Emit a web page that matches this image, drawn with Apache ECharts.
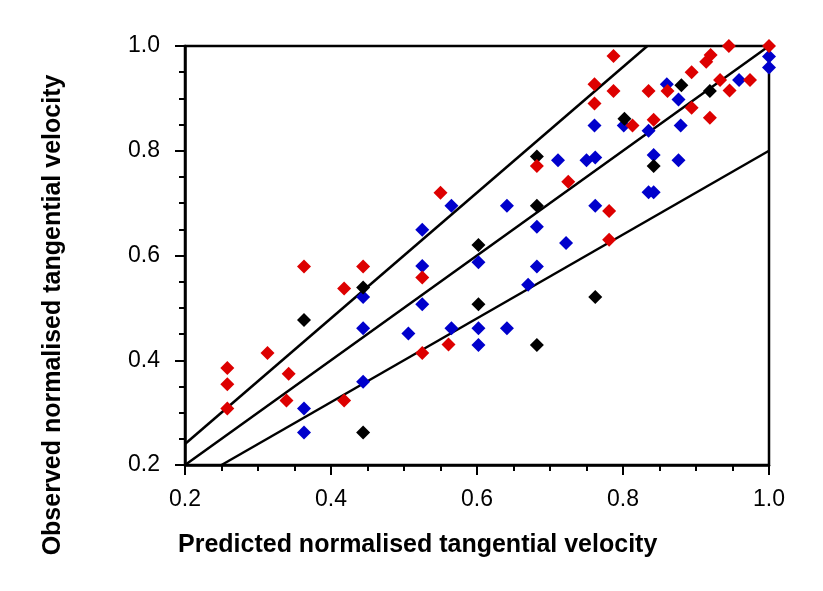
<!DOCTYPE html>
<html>
<head>
<meta charset="utf-8">
<script src="https://cdn.jsdelivr.net/npm/echarts@6/dist/echarts.min.js"></script>
<style>
html,body{margin:0;padding:0;background:#fff;}
#chart{width:823px;height:591px;}
</style>
</head>
<body>
<div id="chart"></div>
<script>
// ---- data ----
var xTickLabels = ['0.2', '0.4', '0.6', '0.8', '1.0'];
var yTickLabels = ['0.2', '0.4', '0.6', '0.8', '1.0'];
var xTitle = 'Predicted normalised tangential velocity';
var yTitle = 'Observed normalised tangential velocity';

var bluePoints = [
  [0.363,0.308],[0.363,0.262],[0.444,0.521],[0.444,0.461],[0.444,0.359],
  [0.506,0.451],[0.525,0.580],[0.525,0.507],[0.525,0.649],[0.565,0.695],
  [0.565,0.461],[0.602,0.587],[0.602,0.461],[0.602,0.429],[0.641,0.695],
  [0.641,0.461],[0.670,0.544],[0.682,0.579],[0.682,0.655],[0.711,0.782],
  [0.722,0.624],[0.750,0.782],[0.762,0.787],[0.761,0.848],[0.762,0.695],
  [0.801,0.848],[0.835,0.838],[0.835,0.721],[0.842,0.721],[0.842,0.792],
  [0.860,0.927],[0.876,0.898],[0.879,0.848],[0.876,0.782],[0.959,0.935],
  [1.000,0.980],[1.000,0.959]
];
var redPoints = [
  [0.258,0.385],[0.258,0.354],[0.258,0.308],[0.313,0.414],[0.342,0.374],
  [0.339,0.323],[0.363,0.579],[0.418,0.537],[0.418,0.323],[0.444,0.579],
  [0.525,0.558],[0.525,0.414],[0.550,0.720],[0.561,0.430],[0.682,0.771],
  [0.725,0.741],[0.761,0.927],[0.761,0.890],[0.781,0.685],[0.781,0.630],
  [0.787,0.981],[0.787,0.914],[0.813,0.848],[0.835,0.914],[0.842,0.859],
  [0.861,0.914],[0.894,0.950],[0.894,0.882],[0.914,0.970],[0.920,0.983],
  [0.919,0.863],[0.933,0.935],[0.945,1.000],[0.946,0.915],[0.974,0.935],
  [1.000,1.000]
];
var blackPoints = [
  [0.363,0.477],[0.444,0.539],[0.444,0.262],[0.602,0.620],[0.602,0.507],
  [0.682,0.789],[0.682,0.695],[0.682,0.429],[0.762,0.521],[0.802,0.861],
  [0.842,0.771],[0.880,0.925],[0.919,0.914]
];
// reference lines y = k * x
var refSlopes = [1.2, 1.0, 0.8];

var axisMin = 0.2, axisMax = 1.0;

function lineData(k) {
  var x0 = Math.max(axisMin, axisMin / k);
  var x1 = Math.min(axisMax, axisMax / k);
  return [[x0, k * x0], [x1, k * x1]];
}

var chart = echarts.init(document.getElementById('chart'), null, {renderer: 'canvas'});

var fontFam = '"Liberation Sans", Arial, Helvetica, sans-serif';

var series = [];
refSlopes.forEach(function (k) {
  series.push({
    type: 'line', data: lineData(k), symbol: 'none', silent: true,
    lineStyle: {color: '#000', width: 2.5}, z: 1
  });
});
[[bluePoints, '#0000cc'], [blackPoints, '#000000'], [redPoints, '#dd0000']].forEach(function (s, i) {
  series.push({
    type: 'scatter', data: s[0], symbol: 'diamond', symbolSize: 14,
    itemStyle: {color: s[1], opacity: 1}, z: 3 + i
  });
});

function labelFmt(list) {
  return function (v) {
    var idx = Math.round((v - axisMin) / 0.2);
    return list[idx] !== undefined ? list[idx] : '';
  };
}

var option = {
  backgroundColor: '#fff',
  animation: false,
  grid: {left: 185, top: 46, width: 584, height: 419, show: true,
         borderColor: '#000', borderWidth: 2.5, backgroundColor: 'transparent'},
  xAxis: {
    type: 'value', min: axisMin, max: axisMax, interval: 0.2,
    splitLine: {show: false},
    axisLine: {show: true, onZero: false, lineStyle: {color: '#000', width: 2.5}},
    axisTick: {show: true, inside: false, length: 10, lineStyle: {color: '#000', width: 2}},
    minorTick: {show: true, splitNumber: 4, length: 6, lineStyle: {color: '#000', width: 2}},
    axisLabel: {color: '#000', fontSize: 23, fontFamily: fontFam, margin: 23,
                formatter: labelFmt(xTickLabels)}
  },
  yAxis: {
    type: 'value', min: axisMin, max: axisMax, interval: 0.2,
    splitLine: {show: false},
    axisLine: {show: true, onZero: false, lineStyle: {color: '#000', width: 2.5}},
    axisTick: {show: true, inside: false, length: 10, lineStyle: {color: '#000', width: 2}},
    minorTick: {show: true, splitNumber: 4, length: 6, lineStyle: {color: '#000', width: 2}},
    axisLabel: {color: '#000', fontSize: 23, fontFamily: fontFam, margin: 25,
                formatter: labelFmt(yTickLabels)}
  },
  graphic: [
    {type: 'text', x: 178, y: 545,
     style: {text: xTitle, font: 'bold 25px ' + fontFam, fill: '#000',
             textAlign: 'left', textVerticalAlign: 'middle'}},
    {type: 'text', x: 53, y: 315, rotation: Math.PI / 2,
     style: {text: yTitle, font: 'bold 25px ' + fontFam, fill: '#000',
             textAlign: 'center', textVerticalAlign: 'middle'}}
  ],
  series: series
};
chart.setOption(option);
</script>
</body>
</html>
